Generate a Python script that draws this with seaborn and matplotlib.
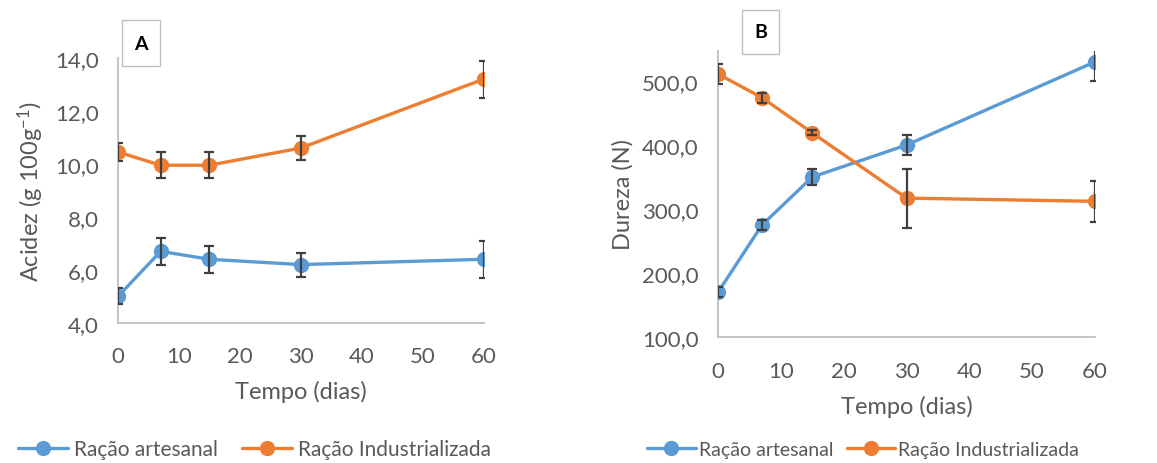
import matplotlib
matplotlib.use("Agg")
import matplotlib.pyplot as plt
from matplotlib.ticker import FuncFormatter, FixedLocator
from matplotlib.lines import Line2D
from matplotlib.patches import Rectangle
import seaborn as sns
import pandas as pd

sns.set_theme(style="white")
plt.rcParams['font.family'] = ['Lato', 'DejaVu Sans']
plt.rcParams['mathtext.default'] = 'regular'

dias = [0, 7, 15, 30, 60]
series_names = ["Ração artesanal", "Ração Industrializada"]

acidez_artesanal = [5.0, 6.7, 6.4, 6.2, 6.4]
acidez_artesanal_err = [0.3, 0.5, 0.5, 0.45, 0.7]
acidez_industrial = [10.45, 9.95, 9.95, 10.6, 13.2]
acidez_industrial_err = [0.35, 0.5, 0.5, 0.45, 0.7]

dureza_artesanal = [170, 275, 350, 400, 530]
dureza_artesanal_err = [8, 8, 12, 15, 30]
dureza_industrial = [511, 474, 419, 317, 312]
dureza_industrial_err = [16, 8, 4, 46, 32]

x_ticks = [0, 10, 20, 30, 40, 50, 60]
acidez_ticks = [4, 6, 8, 10, 12, 14]
dureza_ticks = [100, 200, 300, 400, 500]

BLUE = "#5B9BD5"
ORANGE = "#ED7D31"
GRID = "#BFBFBF"
TXT = "#595959"
ERR = "#404040"

fig = plt.figure(figsize=(11.57, 4.64), dpi=100)
axA = fig.add_axes([0.102, 0.302, 0.316, 0.571])
axB = fig.add_axes([0.6206, 0.2716, 0.3258, 0.6164])

def draw(ax, art, art_err, ind, ind_err, ylim, yticks, ylabel, letter, box):
    df = pd.DataFrame({
        "dias": dias * 2,
        "valor": list(art) + list(ind),
        "serie": [series_names[0]] * len(dias) + [series_names[1]] * len(dias),
    })
    sns.lineplot(data=df, x="dias", y="valor", hue="serie",
                 palette=[BLUE, ORANGE], marker="o", markersize=11,
                 markeredgewidth=0, linewidth=2.4, ax=ax, legend=False,
                 errorbar=None, zorder=3)
    ax.errorbar(dias, art, yerr=art_err, fmt="none", ecolor=ERR,
                elinewidth=1.6, capsize=3.5, capthick=1.6, zorder=4)
    ax.errorbar(dias, ind, yerr=ind_err, fmt="none", ecolor=ERR,
                elinewidth=1.6, capsize=3.5, capthick=1.6, zorder=4)
    ax.set_xlim(0, 60)
    ax.set_ylim(*ylim)
    ax.xaxis.set_major_locator(FixedLocator(x_ticks))
    ax.yaxis.set_major_locator(FixedLocator(yticks))
    ax.yaxis.set_major_formatter(FuncFormatter(lambda v, p: f"{v:.1f}".replace(".", ",")))
    ax.tick_params(axis="both", length=0, labelsize=16, colors=TXT)
    ax.yaxis.set_tick_params(pad=14)
    ax.xaxis.set_tick_params(pad=17)
    for s in ["top", "right"]:
        ax.spines[s].set_visible(False)
    for s in ["left", "bottom"]:
        ax.spines[s].set_color(GRID)
        ax.spines[s].set_linewidth(1.3)
    ax.set_xlabel("Tempo (dias)", fontsize=17, color=TXT, labelpad=10)
    ax.set_ylabel(ylabel, fontsize=17, color=TXT, labelpad=6)
    for lab in ax.get_xticklabels() + ax.get_yticklabels():
        lab.set_clip_on(False)
    x0, y0, w, h = box
    fig.patches.append(Rectangle((x0, y0), w, h, transform=fig.transFigure,
                                 facecolor="white", edgecolor="#BFBFBF", linewidth=1))
    fig.text(x0 + w / 2, y0 + h / 2, letter, ha="center", va="center",
             fontsize=14, fontweight="bold", color="black")

draw(axA, acidez_artesanal, acidez_artesanal_err, acidez_industrial, acidez_industrial_err,
     (4, 14), acidez_ticks, "Acidez (g 100g$^{-1}$)", "A",
     (122 / 1157, 1 - 67 / 464, 38 / 1157, 46 / 464))
draw(axB, dureza_artesanal, dureza_artesanal_err, dureza_industrial, dureza_industrial_err,
     (100, 547), dureza_ticks, "Dureza (N)", "B",
     (742 / 1157, 1 - 55 / 464, 37 / 1157, 44 / 464))

def handles():
    return [Line2D([], [], color=c, marker="o", markersize=11, markeredgewidth=0, linewidth=2.4)
            for c in (BLUE, ORANGE)]

legA = fig.legend(handles(), series_names, loc="center", bbox_to_anchor=(0.220, 0.03),
                  ncol=2, frameon=False, fontsize=15, handlelength=2.4, handletextpad=0.3,
                  columnspacing=1.15, labelcolor=TXT)
legB = fig.legend(handles(), series_names, loc="center", bbox_to_anchor=(0.746, 0.03),
                  ncol=2, frameon=False, fontsize=14, handlelength=2.5, handletextpad=0.15,
                  columnspacing=0.7, labelcolor=TXT)

fig.savefig("out.png", dpi=100, facecolor="white")
